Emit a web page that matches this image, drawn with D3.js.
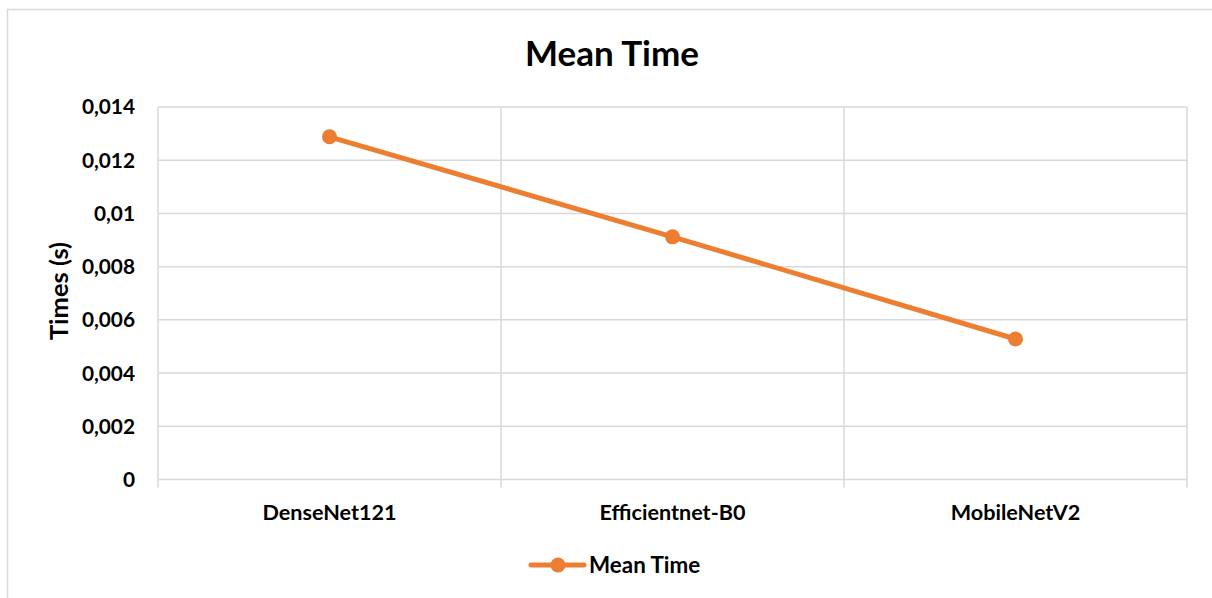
<!DOCTYPE html>
<html><head><meta charset="utf-8">
<script src="https://cdn.jsdelivr.net/npm/d3@7"></script>
<style>body{margin:0;background:#fff}svg{display:block}text{font-family:Lato,"Open Sans",sans-serif;font-weight:bold;fill:#000}</style>
</head><body>
<script>
const categories = ["DenseNet121","Efficientnet-B0","MobileNetV2"];
const meanTime = [0.01288,0.00912,0.00528];
const yTicks = [0,0.002,0.004,0.006,0.008,0.01,0.012,0.014];
const yTickLabels = ["0","0,002","0,004","0,006","0,008","0,01","0,012","0,014"];
const seriesName = "Mean Time";
const chartTitle = "Mean Time";
const yTitle = "Times (s)";

const W=1212,H=598;
const svg=d3.select("body").append("svg").attr("width",W).attr("height",H);
const grid="#d9d9d9", orange="#ED7D31";
svg.append("rect").attr("x",7.5).attr("y",9.5).attr("width",1230).attr("height",620).attr("fill","#fff").attr("stroke",grid).attr("stroke-width",1.5);

const L=158,R=1187,T=107,B=479.5;
const x=d3.scaleBand().domain(categories).range([L,R]);
const y=d3.scaleLinear().domain([0,0.014]).range([B,T]);

// horizontal gridlines
svg.append("g").selectAll("line").data(yTicks).join("line")
 .attr("x1",L).attr("x2",R).attr("y1",d=>y(d)).attr("y2",d=>y(d))
 .attr("stroke",grid).attr("stroke-width",1.5);
// vertical gridlines at category boundaries, extending as ticks below axis
const bounds=categories.map(c=>x(c)).concat([x(categories[categories.length-1])+x.bandwidth()]);
svg.append("g").selectAll("line").data(bounds).join("line")
 .attr("x1",d=>d).attr("x2",d=>d).attr("y1",T).attr("y2",B+8)
 .attr("stroke",grid).attr("stroke-width",1.5);

// y tick labels
svg.append("g").selectAll("text").data(yTicks).join("text")
 .attr("x",135).attr("y",d=>y(d)).attr("dy","0.36em").attr("text-anchor","end")
 .attr("font-size",20.8).text((d,i)=>yTickLabels[i]);

// x labels
svg.append("g").selectAll("text").data(categories).join("text")
 .attr("x",d=>x(d)+x.bandwidth()/2).attr("y",512).attr("dy","0.36em").attr("text-anchor","middle")
 .attr("font-size",21.6).text(d=>d);

// title
svg.append("text").attr("x",612).attr("y",53).attr("dy","0.36em").attr("text-anchor","middle").attr("font-size",35).text(chartTitle);
// y title
svg.append("text").attr("transform","translate(59,291) rotate(-90)").attr("dy","0.36em").attr("text-anchor","middle").attr("font-size",25.5).text(yTitle);

// line
const pts=categories.map((c,i)=>[x(c)+x.bandwidth()/2,y(meanTime[i])]);
svg.append("path").attr("d",d3.line()(pts)).attr("fill","none").attr("stroke",orange).attr("stroke-width",5).attr("stroke-linecap","round").attr("stroke-linejoin","round");
svg.append("g").selectAll("circle").data(pts).join("circle").attr("cx",d=>d[0]).attr("cy",d=>d[1]).attr("r",7.5).attr("fill",orange);

// legend
const lg=svg.append("g");
lg.append("line").attr("x1",531).attr("x2",584).attr("y1",565).attr("y2",565).attr("stroke",orange).attr("stroke-width",5).attr("stroke-linecap","round");
lg.append("circle").attr("cx",558).attr("cy",565).attr("r",7.5).attr("fill",orange);
lg.append("text").attr("x",589).attr("y",565).attr("dy","0.36em").attr("font-size",22.4).text(seriesName);
</script>
</body></html>
